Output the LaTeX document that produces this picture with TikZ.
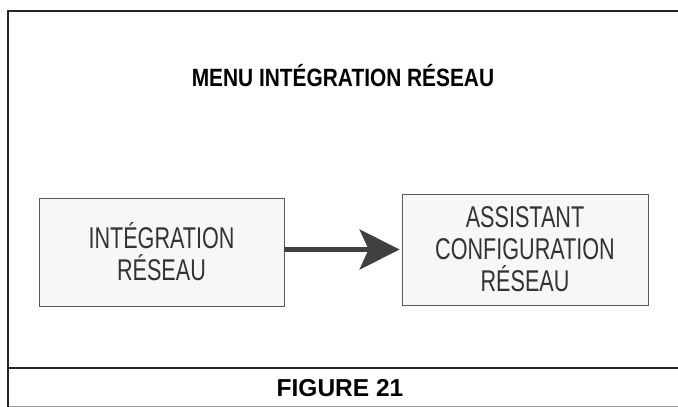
\documentclass[tikz,border=0pt]{standalone}
\usepackage{fontspec}
\setmainfont{Liberation Sans}
\newfontfamily\narrowfont[FakeStretch=0.835]{Liberation Sans}
\newfontfamily\menufont[FakeStretch=0.72]{Liberation Sans}
\usetikzlibrary{arrows.meta}

\begin{document}
\begin{tikzpicture}[x=1pt, y=-1pt,
    menubox/.style={draw=black!65, line width=0.8pt, fill=black!3,
      align=center, text=black!80, font=\menufont\fontsize{30}{32}\selectfont,
      inner sep=0pt},
    flowarrow/.style={draw=black!75, line width=4.5pt,
      -{Stealth[length=40pt, width=40pt, inset=9pt]}, shorten >=2pt},
    framerule/.style={draw=black!85, line width=2pt}]

  \useasboundingbox (0,0) rectangle (678,407);

  %% frame
  \draw[framerule] (678,11) -- (8,11) -- (8,407);
  \draw[framerule] (8,368) -- (678,368);
  \draw[black!40, line width=1pt] (9,406) -- (678,406);

  \node[font=\narrowfont\bfseries\fontsize{25}{28}\selectfont] (title) at (343,76)
    {MENU INTÉGRATION RÉSEAU};

  \node[menubox, minimum width=245, minimum height=108] (integ) at (161.5,252)
    {INTÉGRATION\\RÉSEAU};
  \node[menubox, minimum width=246, minimum height=111] (assist) at (525,249.5)
    {ASSISTANT\\CONFIGURATION\\RÉSEAU};

  \draw[flowarrow] (integ.east |- assist.west) -- (assist.west); %% integ->assist

  \node[font=\bfseries\fontsize{24.5}{27}\selectfont] (fig) at (340,388) {FIGURE 21};
\end{tikzpicture}
\end{document}
